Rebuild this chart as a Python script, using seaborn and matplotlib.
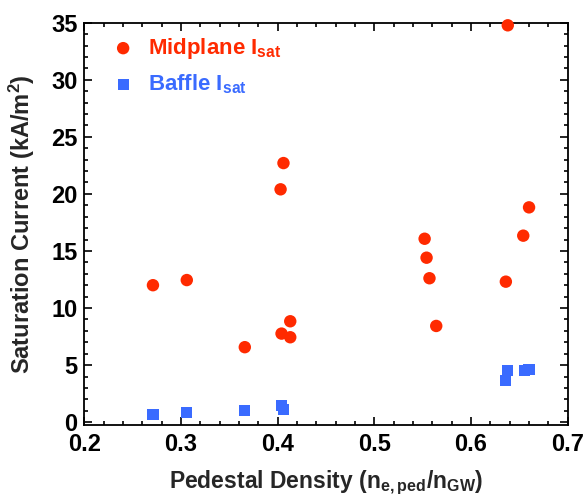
import numpy as np
import pandas as pd
import matplotlib
matplotlib.use('Agg')
import matplotlib.pyplot as plt
import seaborn as sns
from matplotlib.ticker import MultipleLocator

# data
mid_density = [0.271, 0.306, 0.366, 0.403, 0.404, 0.406, 0.413, 0.413,
               0.552, 0.554, 0.557, 0.564, 0.636, 0.638, 0.654, 0.660]
mid_isat = [12.0, 12.45, 6.57, 20.4, 7.76, 22.7, 8.84, 7.44,
            16.07, 14.41, 12.61, 8.43, 12.31, 34.77, 16.34, 18.82]

baffle_density = [0.271, 0.306, 0.366, 0.404, 0.406, 0.636, 0.638, 0.655, 0.660]
baffle_isat = [0.65, 0.88, 1.0, 1.46, 1.08, 3.65, 4.5, 4.5, 4.6]

RED = '#FF2A00'
BLUE = '#3A6BFF'

sns.set_theme(style='ticks')
plt.rcParams['font.family'] = ['Liberation Sans Narrow', 'Liberation Sans', 'DejaVu Sans']
plt.rcParams['font.weight'] = 'bold'
plt.rcParams['mathtext.default'] = 'regular'

fig = plt.figure(figsize=(5.83, 5.04), dpi=100)
ax = fig.add_axes([0.1446, 0.1567, 0.8292, 0.7983])

df_mid = pd.DataFrame({"x": mid_density, "y": mid_isat})
df_baf = pd.DataFrame({"x": baffle_density, "y": baffle_isat})

sns.scatterplot(data=df_mid, x="x", y="y", ax=ax, marker='o', s=80,
                color=RED, edgecolor='none', label=r"Midplane I$_{\mathregular{sat}}$",
                clip_on=False, zorder=3)
sns.scatterplot(data=df_baf, x="x", y="y", ax=ax, marker='s', s=65,
                color=BLUE, edgecolor='none', label=r"Baffle I$_{\mathregular{sat}}$",
                clip_on=False, zorder=3)

ax.set_xlim(0.2, 0.7)
ax.set_ylim(-0.25, 35)
ax.xaxis.set_minor_locator(MultipleLocator(0.02))
ax.yaxis.set_major_locator(MultipleLocator(5))
ax.yaxis.set_minor_locator(MultipleLocator(1))
ax.set_xticks(np.arange(0.2, 0.71, 0.1))
ax.set_xticklabels(['0.2', '0.3', '0.4', '0.5', '0.6', '0.7'])
ax.tick_params(which='both', direction='in', top=True, right=True, width=1.2, colors='black')
ax.tick_params(which='major', length=6, labelsize=17)
ax.tick_params(axis='x', which='major', pad=6)
ax.tick_params(axis='y', which='major', pad=5)
ax.tick_params(which='minor', length=3)
for lab in ax.get_xticklabels() + ax.get_yticklabels():
    lab.set_fontweight('bold')
for sp in ax.spines.values():
    sp.set_linewidth(1.3)
    sp.set_color('black')

ax.set_xlabel(r"Pedestal Density (n$_{\mathregular{e,ped}}$/n$_{\mathregular{GW}}$)",
              fontsize=16.5, fontweight='bold', labelpad=9)
ax.set_ylabel("Saturation Current (kA/m$^{\\mathregular{2}}$)", fontsize=17,
              fontweight='bold', labelpad=10)

leg = ax.legend(loc='upper left', frameon=False, fontsize=16, handletextpad=0.63,
                handlelength=1.0, borderaxespad=0.0, borderpad=0.4, labelspacing=0.5,
                markerscale=1.0, bbox_to_anchor=(0.039, 0.989))
for txt, c in zip(leg.get_texts(), [RED, BLUE]):
    txt.set_color(c)
    txt.set_fontweight('bold')

fig.savefig("out.png", dpi=100)
